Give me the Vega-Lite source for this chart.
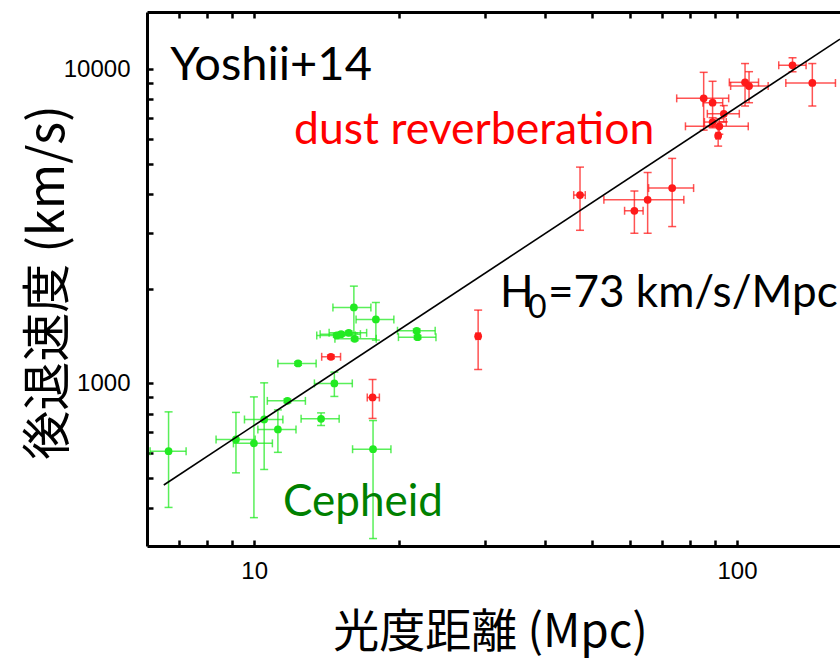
{
  "$schema": "https://vega.github.io/schema/vega-lite/v6.json",
  "width": 693,
  "height": 534,
  "autosize": {"type": "none"},
  "padding": {"left": 147, "top": 12, "right": 0, "bottom": 112},
  "background": "white",
  "config": {"view": {"stroke": null}},
  "datasets": {
    "points": [
      {"group": "Cepheid", "d": 6.65, "v": 607, "dlo": 6.09, "dhi": 7.23, "vlo": 402, "vhi": 810},
      {"group": "Cepheid", "d": 9.17, "v": 662, "dlo": 8.34, "dhi": 10.05, "vlo": 518, "vhi": 807},
      {"group": "Cepheid", "d": 9.99, "v": 643, "dlo": 9.06, "dhi": 10.91, "vlo": 373, "vhi": 904},
      {"group": "Cepheid", "d": 10.49, "v": 766, "dlo": 9.55, "dhi": 11.47, "vlo": 531, "vhi": 1002},
      {"group": "Cepheid", "d": 11.2, "v": 712, "dlo": 10.18, "dhi": 12.21, "vlo": 602, "vhi": 822},
      {"group": "Cepheid", "d": 11.72, "v": 878, "dlo": 10.65, "dhi": 12.77, "vlo": 866, "vhi": 890},
      {"group": "Cepheid", "d": 12.33, "v": 1155, "dlo": 11.2, "dhi": 13.44, "vlo": 1140, "vhi": 1170},
      {"group": "Cepheid", "d": 13.76, "v": 770, "dlo": 12.51, "dhi": 15.0, "vlo": 733, "vhi": 804},
      {"group": "Cepheid", "d": 14.66, "v": 998, "dlo": 13.33, "dhi": 15.97, "vlo": 907, "vhi": 1084},
      {"group": "Cepheid", "d": 14.83, "v": 1419, "dlo": 13.48, "dhi": 16.2, "vlo": 1400, "vhi": 1438},
      {"group": "Cepheid", "d": 15.14, "v": 1432, "dlo": 13.7, "dhi": 16.6, "vlo": 1413, "vhi": 1451},
      {"group": "Cepheid", "d": 15.7, "v": 1446, "dlo": 14.3, "dhi": 17.1, "vlo": 1427, "vhi": 1465},
      {"group": "Cepheid", "d": 16.15, "v": 1384, "dlo": 14.7, "dhi": 17.9, "vlo": 1366, "vhi": 1402},
      {"group": "Cepheid", "d": 16.09, "v": 1742, "dlo": 14.56, "dhi": 17.45, "vlo": 1443, "vhi": 2036},
      {"group": "Cepheid", "d": 17.87, "v": 1595, "dlo": 16.26, "dhi": 19.47, "vlo": 1371, "vhi": 1806},
      {"group": "Cepheid", "d": 21.71, "v": 1468, "dlo": 19.81, "dhi": 23.71, "vlo": 1449, "vhi": 1487},
      {"group": "Cepheid", "d": 21.8, "v": 1401, "dlo": 19.9, "dhi": 23.8, "vlo": 1383, "vhi": 1419},
      {"group": "Cepheid", "d": 17.63, "v": 616, "dlo": 15.99, "dhi": 19.2, "vlo": 320, "vhi": 760},
      {"group": "dust reverberation", "d": 14.42, "v": 1213, "dlo": 13.8, "dhi": 15.1, "vlo": 1197, "vhi": 1229},
      {"group": "dust reverberation", "d": 17.59, "v": 900, "dlo": 17.15, "dhi": 18.17, "vlo": 772, "vhi": 1027},
      {"group": "dust reverberation", "d": 29.1, "v": 1411, "dlo": 28.8, "dhi": 29.4, "vlo": 1105, "vhi": 1708},
      {"group": "dust reverberation", "d": 47.3, "v": 3969, "dlo": 45.9, "dhi": 48.5, "vlo": 3066, "vhi": 4872},
      {"group": "dust reverberation", "d": 61.3, "v": 3538, "dlo": 58.5, "dhi": 63.9, "vlo": 3000, "vhi": 4089},
      {"group": "dust reverberation", "d": 65.3, "v": 3834, "dlo": 53.0, "dhi": 77.6, "vlo": 3000, "vhi": 4683},
      {"group": "dust reverberation", "d": 73.4, "v": 4178, "dlo": 65.6, "dhi": 81.3, "vlo": 3151, "vhi": 5193},
      {"group": "dust reverberation", "d": 85.3, "v": 8065, "dlo": 75.0, "dhi": 96.1, "vlo": 6390, "vhi": 9760},
      {"group": "dust reverberation", "d": 89.0, "v": 7810, "dlo": 85.0, "dhi": 93.4, "vlo": 6550, "vhi": 9140},
      {"group": "dust reverberation", "d": 93.9, "v": 7204, "dlo": 86.8, "dhi": 101.1, "vlo": 6790, "vhi": 7650},
      {"group": "dust reverberation", "d": 89.0, "v": 6780, "dlo": 85.6, "dhi": 95.0, "vlo": 6500, "vhi": 7000},
      {"group": "dust reverberation", "d": 91.9, "v": 6570, "dlo": 78.2, "dhi": 105.5, "vlo": 6200, "vhi": 6950},
      {"group": "dust reverberation", "d": 91.4, "v": 6134, "dlo": 90.5, "dhi": 92.3, "vlo": 5683, "vhi": 6615},
      {"group": "dust reverberation", "d": 103.9, "v": 9070, "dlo": 96.4, "dhi": 110.8, "vlo": 7625, "vhi": 10410},
      {"group": "dust reverberation", "d": 105.9, "v": 8829, "dlo": 97.0, "dhi": 116.0, "vlo": 7812, "vhi": 9807},
      {"group": "dust reverberation", "d": 130.3, "v": 10280, "dlo": 122.0, "dhi": 139.0, "vlo": 9800, "vhi": 10860},
      {"group": "dust reverberation", "d": 143.2, "v": 9027, "dlo": 126.2, "dhi": 159.9, "vlo": 7625, "vhi": 10410}
    ],
    "fit": [{"d": 6.5, "v": 474}, {"d": 163.4, "v": 12450}]
  },
  "layer": [
    {
      "data": {"name": "points"},
      "mark": {"type": "errorbar", "size": 8, "thickness": 1.5, "opacity": 0.75, "ticks": true},
      "encoding": {
        "x": {"field": "dlo", "type": "quantitative", "scale": {"type": "log", "domain": [6.0, 163.4], "nice": false}, "axis": null},
        "x2": {"field": "dhi"},
        "y": {"field": "v", "type": "quantitative", "scale": {"type": "log", "domain": [303, 15190], "nice": false}, "axis": null},
        "color": {"field": "group", "type": "nominal", "scale": {"domain": ["Cepheid", "dust reverberation"], "range": ["#22ea22", "#ff1a1a"]}, "legend": null}
      }
    },
    {
      "data": {"name": "points"},
      "mark": {"type": "errorbar", "size": 8, "thickness": 1.5, "opacity": 0.75, "ticks": true},
      "encoding": {
        "x": {"field": "d", "type": "quantitative", "scale": {"type": "log", "domain": [6.0, 163.4], "nice": false}, "axis": null},
        "y": {"field": "vlo", "type": "quantitative", "scale": {"type": "log", "domain": [303, 15190], "nice": false}, "axis": null},
        "y2": {"field": "vhi"},
        "color": {"field": "group", "type": "nominal", "scale": {"domain": ["Cepheid", "dust reverberation"], "range": ["#22ea22", "#ff1a1a"]}, "legend": null}
      }
    },
    {
      "data": {"name": "points"},
      "mark": {"type": "point", "shape": "circle", "filled": true, "opacity": 1, "size": 60},
      "encoding": {
        "x": {
          "field": "d", "type": "quantitative",
          "scale": {"type": "log", "domain": [6.0, 163.4], "nice": false},
          "axis": {
            "orient": "bottom", "title": "光度距離 (Mpc)",
            "values": [7, 8, 9, 10, 20, 30, 40, 50, 60, 70, 80, 90, 100],
            "format": "d",
            "labelExpr": "datum.value == 10 || datum.value == 100 ? datum.label : ''",
            "labelFont": "Liberation Sans", "labelFontSize": 24, "labelColor": "black",
            "ticks": true, "tickSize": -6, "labelPadding": 19, "labelFlush": false, "labelOverlap": false,
            "domainColor": "black", "domainWidth": 3,
            "tickColor": "black", "tickWidth": 2.5,
            "encode": {"ticks": {"update": {"y2": {"signal": "datum.value == 10 || datum.value == 100 ? -11 : -6"}}}},
            "grid": false,
            "titleFont": "Noto Sans CJK JP", "titleFontSize": 46, "titleFontWeight": "normal", "titleColor": "black",
            "titleBaseline": "alphabetic", "titleAlign": "center", "titleY": 100, "titleX": 343
          }
        },
        "y": {
          "field": "v", "type": "quantitative",
          "scale": {"type": "log", "domain": [303, 15190], "nice": false},
          "axis": {
            "orient": "left", "title": "後退速度 (km/s)",
            "values": [400, 500, 600, 700, 800, 900, 1000, 2000, 3000, 4000, 5000, 6000, 7000, 8000, 9000, 10000],
            "format": "d",
            "labelExpr": "datum.value == 1000 || datum.value == 10000 ? datum.label : ''",
            "labelFont": "Liberation Sans", "labelFontSize": 24, "labelColor": "black",
            "ticks": true, "tickSize": -6, "labelPadding": 23, "labelFlush": false, "labelOverlap": false,
            "domainColor": "black", "domainWidth": 3,
            "tickColor": "black", "tickWidth": 2.5,
            "encode": {"ticks": {"update": {"x2": {"signal": "datum.value == 1000 || datum.value == 10000 ? 11 : 6"}}}},
            "grid": false,
            "titleFont": "Noto Sans CJK JP", "titleFontSize": 49, "titleFontWeight": "normal", "titleColor": "black",
            "titleAngle": -90, "titleBaseline": "alphabetic", "titleAlign": "center",
            "titleX": -84, "titleY": 270
          }
        },
        "color": {"field": "group", "type": "nominal", "scale": {"domain": ["Cepheid", "dust reverberation"], "range": ["#00e600", "#ff0000"]}, "legend": null}
      }
    },
    {
      "data": {"name": "fit"},
      "mark": {"type": "line", "color": "black", "strokeWidth": 1.6, "clip": true},
      "encoding": {
        "x": {
          "field": "d", "type": "quantitative",
          "scale": {"type": "log", "domain": [6.0, 163.4], "nice": false},
          "axis": {
            "orient": "top", "title": null, "labels": false,
            "values": [7, 8, 9, 10, 20, 30, 40, 50, 60, 70, 80, 90, 100],
            "domainColor": "black", "domainWidth": 3,
            "ticks": true, "tickSize": -6, "tickColor": "black", "tickWidth": 2.5,
            "encode": {"ticks": {"update": {"y2": {"signal": "datum.value == 10 || datum.value == 100 ? 11 : 6"}}}},
            "grid": false
          }
        },
        "y": {"field": "v", "type": "quantitative", "scale": {"type": "log", "domain": [303, 15190], "nice": false}, "axis": null}
      }
    },
    {
      "data": {"values": [{"label": "Yoshii+14", "d": 6.7, "v": 9226}]},
      "mark": {"type": "text", "align": "left", "baseline": "alphabetic", "font": "Lato", "fontSize": 47, "color": "black"},
      "encoding": {
        "x": {"field": "d", "type": "quantitative", "scale": {"type": "log", "domain": [6.0, 163.4], "nice": false}, "axis": null},
        "y": {"field": "v", "type": "quantitative", "scale": {"type": "log", "domain": [303, 15190], "nice": false}, "axis": null},
        "text": {"field": "label"}
      }
    },
    {
      "data": {"values": [{"label": "dust reverberation", "d": 12.1, "v": 5769}]},
      "mark": {"type": "text", "align": "left", "baseline": "alphabetic", "font": "Lato", "fontSize": 44.5, "color": "#ff0000"},
      "encoding": {
        "x": {"field": "d", "type": "quantitative", "scale": {"type": "log", "domain": [6.0, 163.4], "nice": false}, "axis": null},
        "y": {"field": "v", "type": "quantitative", "scale": {"type": "log", "domain": [303, 15190], "nice": false}, "axis": null},
        "text": {"field": "label"}
      }
    },
    {
      "data": {"values": [{"label": "Cepheid", "d": 11.48, "v": 377}]},
      "mark": {"type": "text", "align": "left", "baseline": "alphabetic", "font": "Lato", "fontSize": 44, "color": "#008000"},
      "encoding": {
        "x": {"field": "d", "type": "quantitative", "scale": {"type": "log", "domain": [6.0, 163.4], "nice": false}, "axis": null},
        "y": {"field": "v", "type": "quantitative", "scale": {"type": "log", "domain": [303, 15190], "nice": false}, "axis": null},
        "text": {"field": "label"}
      }
    },
    {
      "data": {"values": [{"label": "H", "d": 32.3, "v": 1746}, {"label": "=73 km/s/Mpc", "d": 40.6, "v": 1746}]},
      "mark": {"type": "text", "align": "left", "baseline": "alphabetic", "font": "Lato", "fontSize": 44, "color": "black"},
      "encoding": {
        "x": {"field": "d", "type": "quantitative", "scale": {"type": "log", "domain": [6.0, 163.4], "nice": false}, "axis": null},
        "y": {"field": "v", "type": "quantitative", "scale": {"type": "log", "domain": [303, 15190], "nice": false}, "axis": null},
        "text": {"field": "label"}
      }
    },
    {
      "data": {"values": [{"label": "0", "d": 36.9, "v": 1611}]},
      "mark": {"type": "text", "align": "left", "baseline": "alphabetic", "font": "Lato", "fontSize": 32, "color": "black"},
      "encoding": {
        "x": {"field": "d", "type": "quantitative", "scale": {"type": "log", "domain": [6.0, 163.4], "nice": false}, "axis": null},
        "y": {"field": "v", "type": "quantitative", "scale": {"type": "log", "domain": [303, 15190], "nice": false}, "axis": null},
        "text": {"field": "label"}
      }
    }
  ],
  "resolve": {"axis": {"x": "independent", "y": "independent"}}
}
